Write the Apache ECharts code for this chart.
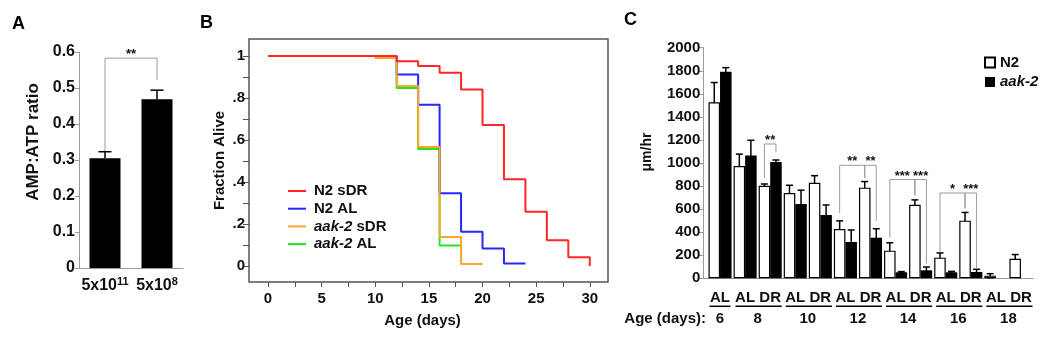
<!DOCTYPE html>
<html><head><meta charset="utf-8">
<script src="https://cdn.jsdelivr.net/npm/echarts@6/dist/echarts.min.js"></script>
<style>html,body{margin:0;padding:0;background:#fff}#c{width:1050px;height:339px}</style>
</head><body><div id="c"></div>
<script>
// ---------- Panel A data ----------
const aCategories = ['5x10^11', '5x10^8'];
const aValues = [0.305, 0.469];
const aErrors = [0.018, 0.025];
// bracket: [fromIndex, toIndex, leftEnd, rightEnd, top]
const aBrackets = [[0, 1, 0.325, 0.522, 0.583]];
const aBracketLabels = ['**'];

// ---------- Panel B data (Kaplan-Meier steps: [day, fraction]) ----------
const bXTicks = [0, 2.5, 5, 7.5, 10, 12.5, 15, 17.5, 20, 22.5, 25, 27.5, 30];
const bXLabels = [0, 5, 10, 15, 20, 25, 30];
const bYTicks = [0, 0.1, 0.2, 0.3, 0.4, 0.5, 0.6, 0.7, 0.8, 0.9, 1];
const bYLabels = [0, 0.2, 0.4, 0.6, 0.8, 1];
const n2sDR = [[0,1],[12,0.975],[14,0.953],[16,0.92],[18,0.84],[20,0.672],[22,0.413],[24,0.258],[26,0.123],[28,0.042],[30,0]];
const n2AL = [[0,1],[12,0.912],[14,0.768],[16,0.347],[18,0.163],[20,0.083],[22,0.012],[24,0.012]];
const aak2sDR = [[0,1],[10,0.99],[12,0.857],[14,0.567],[16,0.138],[18,0.01],[20,0.01]];
const aak2AL = [[0,1],[12,0.848],[14,0.557],[16,0.098],[18,0.01]];

// ---------- Panel C data ----------
const cCategories = ['6 AL','8 AL','8 DR','10 AL','10 DR','12 AL','12 DR','14 AL','14 DR','16 AL','16 DR','18 AL','18 DR'];
const n2Values = [1526, 974, 803, 740, 829, 428, 786, 240, 638, 179, 500, 23, 170];
const n2Errors = [172, 103, 15, 67, 61, 70, 53, 68, 42, 41, 71, 17, 36];
const aak2Values = [1792, 1064, 1009, 644, 549, 315, 352, 52, 69, 52, 55, null, null];
const aak2Errors = [35, 133, 17, 120, 87, 104, 78, 6, 29, 8, 23, null, null];
const ageLabels = ['6', '8', '10', '12', '14', '16', '18'];
const ageGroupStart = [0, 1, 3, 5, 7, 9, 11];
const ageGroupEnd = [0, 2, 4, 6, 8, 10, 12];
// brackets: [fromIndex, fromSeries(0=N2,1=aak-2), toIndex, toSeries, leftEnd, rightEnd, top]
const cBrackets = [
  [2,0, 2,1, 867, 1093, 1165],
  [5,0, 6,0, 564, 870, 980],
  [6,0, 6,1, 870, 500, 980],
  [7,0, 8,0, 355, 720, 857],
  [8,0, 8,1, 720, 130, 857],
  [9,0, 10,0, 231, 607, 740],
  [10,0, 10,1, 607, 87, 740]
];
const cBracketLabels = ['**', '**', '**', '***', '***', '*', '***'];

// ---------- styling ----------
const FONT = "'Liberation Sans', Arial, Helvetica, sans-serif";
const TXT = '#111';
const BAR_HALF = 0.23; // offset of each bar centre inside its category (barWidth 46%, gap 0)

const chart = echarts.init(document.getElementById('c'), null, {renderer: 'canvas'});

function errRender(capHalf, upOnly, lw) {
  return function (params, api) {
    const x = api.value(0), v = api.value(1), e = api.value(2);
    const pTop = api.coord([x, v + e]);
    const pBot = api.coord([x, upOnly ? v : v - e]);
    const st = {stroke: '#000', lineWidth: lw};
    const ch = [
      {type: 'line', shape: {x1: pTop[0], y1: pTop[1], x2: pBot[0], y2: pBot[1]}, style: st},
      {type: 'line', shape: {x1: pTop[0] - capHalf, y1: pTop[1], x2: pTop[0] + capHalf, y2: pTop[1]}, style: st}
    ];
    if (!upOnly) ch.push({type: 'line', shape: {x1: pBot[0] - capHalf, y1: pBot[1], x2: pBot[0] + capHalf, y2: pBot[1]}, style: st});
    return {type: 'group', children: ch};
  };
}
function bracketRender(labels, fontSize, dy) {
  return function (params, api) {
    const x1 = api.value(0), x2 = api.value(1), yl = api.value(2), yr = api.value(3), yt = api.value(4);
    const a = api.coord([x1, yl]), b = api.coord([x1, yt]), c = api.coord([x2, yt]), d = api.coord([x2, yr]);
    return {type: 'group', children: [
      {type: 'polyline', shape: {points: [a, b, c, d]}, style: {stroke: '#9a9a9a', lineWidth: 1, fill: null}},
      {type: 'text', x: (b[0] + c[0]) / 2, y: b[1] - dy,
       style: {text: labels[params.dataIndex], fill: TXT, fontSize: fontSize, fontWeight: 'bold', fontFamily: FONT, align: 'center', verticalAlign: 'middle'}}
    ]};
  };
}

const groupCenters = ageGroupStart.map((s, i) => (s + ageGroupEnd[i]) / 2);
const underlineData = ageGroupStart.map((s, i) => {
  const n = ageGroupEnd[i] - s + 1;
  return [groupCenters[i] + (n > 1 ? 0.04 : 0), 0.5 * n - 0.08];
});
const barX = (idx, s) => idx + (s === 0 ? -BAR_HALF : BAR_HALF);

const option = {
  animation: false,
  textStyle: {fontFamily: FONT, fontWeight: 'bold', color: TXT},
  grid: [
    {left: 79, top: 52, width: 104, height: 216, outerBoundsMode: 'none'},
    {left: 249, top: 39, width: 359, height: 243, show: true, borderColor: '#555', borderWidth: 1.5, outerBoundsMode: 'none'},
    {left: 703.3, top: 47.7, width: 330.2, height: 230.6, outerBoundsMode: 'none'},
    {left: 707.5, top: 47.7, width: 326, height: 230.6, outerBoundsMode: 'none'}
  ],
  legend: [
    {
      data: ['N2 sDR', 'N2 AL', 'aak-2 sDR', 'aak-2 AL'],
      orient: 'vertical', left: 283, top: 178, itemWidth: 18, itemHeight: 2, itemGap: 1.7, icon: 'rect',
      selectedMode: false,
      textStyle: {fontSize: 15, fontWeight: 'bold', fontFamily: FONT, color: TXT, lineHeight: 16, padding: [0, 0, 0, 3],
        rich: {i: {fontSize: 15, fontWeight: 'bold', fontStyle: 'italic', fontFamily: FONT, color: TXT}}},
      formatter: n => n.indexOf('aak-2') === 0 ? '{i|aak-2}' + n.slice(5) : n
    },
    {
      data: ['N2', 'aak-2'],
      orient: 'vertical', left: 979, top: 50, itemWidth: 10, itemHeight: 10, itemGap: 4.5, icon: 'rect',
      selectedMode: false,
      textStyle: {fontSize: 15, fontWeight: 'bold', fontFamily: FONT, color: TXT, lineHeight: 12,
        rich: {i: {fontSize: 15, fontWeight: 'bold', fontStyle: 'italic', fontFamily: FONT, color: TXT}}},
      formatter: n => n === 'aak-2' ? '{i|aak-2}' : n
    }
  ],
  xAxis: [
    {gridIndex: 0, type: 'category', data: aCategories,
     axisLine: {show: true, lineStyle: {color: '#9a9a9a', width: 1}}, axisTick: {show: false},
     axisLabel: {margin: 8, interval: 0,
       formatter: c => { const p = c.split('^'); return '{b|' + p[0] + '}{sup|' + p[1] + '}'; },
       rich: {b: {fontSize: 16, fontWeight: 'bold', fontFamily: FONT, color: TXT, lineHeight: 20},
              sup: {fontSize: 11, fontWeight: 'bold', fontFamily: FONT, color: TXT, verticalAlign: 'top'}}}},
    {gridIndex: 1, type: 'value', min: -1.77, max: 31.7,
     axisLine: {show: false, onZero: false}, splitLine: {show: false},
     axisTick: {show: true, customValues: bXTicks, length: 5, lineStyle: {color: '#555', width: 1}},
     axisLabel: {customValues: bXLabels, margin: 9, fontSize: 15, fontWeight: 'bold', fontFamily: FONT, color: TXT},
     name: 'Age (days)', nameLocation: 'middle', nameGap: 31,
     nameTextStyle: {fontSize: 15, fontWeight: 'bold', fontFamily: FONT, color: TXT, padding: [0, 12, 0, 0]}},
    {gridIndex: 2, type: 'value', min: -0.667, max: 12.5,
     axisLine: {show: true, onZero: false, lineStyle: {color: '#9a9a9a', width: 1}}, axisTick: {show: false}, splitLine: {show: false},
     axisLabel: {customValues: groupCenters, margin: 33, fontSize: 15, fontWeight: 'bold', fontFamily: FONT, color: TXT,
       formatter: v => { const i = groupCenters.indexOf(v); return i >= 0 ? ageLabels[i] : ''; }}},
    {gridIndex: 3, type: 'category', data: cCategories,
     axisLine: {show: false}, axisTick: {show: false},
     axisLabel: {interval: 0, margin: 12, fontSize: 15, fontWeight: 'bold', fontFamily: FONT, color: TXT,
       formatter: c => c.split(' ')[1]}}
  ],
  yAxis: [
    {gridIndex: 0, type: 'value', min: 0, max: 0.6, interval: 0.1,
     axisLine: {show: true, onZero: false, lineStyle: {color: '#9a9a9a', width: 1}},
     axisTick: {show: true, length: 4, lineStyle: {color: '#9a9a9a'}}, splitLine: {show: false},
     axisLabel: {fontSize: 16, margin: 4, fontWeight: 'bold', fontFamily: FONT, color: TXT,
       formatter: v => v === 0 ? '0' : v.toFixed(1)}},
    {gridIndex: 1, type: 'value', min: -0.076, max: 1.081,
     axisLine: {show: false, onZero: false}, splitLine: {show: false},
     axisTick: {show: true, customValues: bYTicks, length: 6, lineStyle: {color: '#555', width: 1}},
     axisLabel: {customValues: bYLabels, margin: 4, fontSize: 15, fontWeight: 'bold', fontFamily: FONT, color: TXT,
       formatter: v => (v === 0 || v === 1) ? String(v) : String(+v.toFixed(1)).replace('0.', '.')},
     name: 'Fraction Alive', nameLocation: 'middle', nameGap: 22,
     nameTextStyle: {fontSize: 15, fontWeight: 'bold', fontFamily: FONT, color: TXT}},
    {gridIndex: 2, type: 'value', min: 0, max: 2000, interval: 200,
     axisLine: {show: true, onZero: false, lineStyle: {color: '#9a9a9a', width: 1}},
     axisTick: {show: true, length: 5, lineStyle: {color: '#9a9a9a'}}, splitLine: {show: false},
     axisLabel: {fontSize: 15, margin: 3, fontWeight: 'bold', fontFamily: FONT, color: TXT, formatter: v => String(v)}},
    {gridIndex: 3, type: 'value', min: 0, max: 2000, show: false, splitLine: {show: false}, axisLine: {onZero: false}}
  ],
  series: [
    // Panel A
    {name: 'AMP:ATP', type: 'bar', xAxisIndex: 0, yAxisIndex: 0, data: aValues, barWidth: 31, itemStyle: {color: '#000'}},
    {type: 'custom', xAxisIndex: 0, yAxisIndex: 0, silent: true, clip: false,
     data: aValues.map((v, i) => [i, v, aErrors[i]]), encode: {x: 0, y: 1}, renderItem: errRender(6.5, true, 1.5)},
    {type: 'custom', xAxisIndex: 0, yAxisIndex: 0, silent: true, clip: false,
     data: aBrackets, encode: {x: [0, 1], y: [2, 3, 4]}, renderItem: bracketRender(aBracketLabels, 13, 3.5)},
    // Panel B
    {name: 'aak-2 AL', type: 'line', step: 'end', xAxisIndex: 1, yAxisIndex: 1, data: aak2AL, symbol: 'none',
     lineStyle: {width: 2, color: '#22e622'}, itemStyle: {color: '#22e622'}},
    {name: 'N2 AL', type: 'line', step: 'end', xAxisIndex: 1, yAxisIndex: 1, data: n2AL, symbol: 'none',
     lineStyle: {width: 2, color: '#2626ff'}, itemStyle: {color: '#2626ff'}},
    {name: 'aak-2 sDR', type: 'line', step: 'end', xAxisIndex: 1, yAxisIndex: 1, data: aak2sDR, symbol: 'none',
     lineStyle: {width: 2, color: '#ffa52e'}, itemStyle: {color: '#ffa52e'}},
    {name: 'N2 sDR', type: 'line', step: 'end', xAxisIndex: 1, yAxisIndex: 1, data: n2sDR, symbol: 'none',
     lineStyle: {width: 2, color: '#ff2626'}, itemStyle: {color: '#ff2626'}},
    // Panel C
    {name: 'N2', type: 'bar', xAxisIndex: 3, yAxisIndex: 3, data: n2Values, barWidth: '46%', barGap: '0%',
     itemStyle: {color: '#fff', borderColor: '#000', borderWidth: 1.2}},
    {name: 'aak-2', type: 'bar', xAxisIndex: 3, yAxisIndex: 3, data: aak2Values, barWidth: '46%', barGap: '0%',
     itemStyle: {color: '#000'}},
    {type: 'custom', xAxisIndex: 2, yAxisIndex: 2, silent: true, clip: false,
     data: n2Values.map((v, i) => [barX(i, 0), v, n2Errors[i]]), encode: {x: 0, y: 1}, renderItem: errRender(3.5, false, 1.5)},
    {type: 'custom', xAxisIndex: 2, yAxisIndex: 2, silent: true, clip: false,
     data: aak2Values.map((v, i) => [barX(i, 1), v, aak2Errors[i]]).filter(d => d[1] != null), encode: {x: 0, y: 1}, renderItem: errRender(3.5, false, 1.5)},
    {type: 'custom', xAxisIndex: 2, yAxisIndex: 2, silent: true, clip: false,
     data: cBrackets.map(b => [barX(b[0], b[1]), barX(b[2], b[3]), b[4], b[5], b[6]]),
     encode: {x: [0, 1], y: [2, 3, 4]}, renderItem: bracketRender(cBracketLabels, 13, 3.5)},
    {type: 'custom', xAxisIndex: 2, yAxisIndex: 2, silent: true, clip: false,
     data: underlineData, encode: {x: 0},
     renderItem: function (params, api) {
       const c = api.value(0), h = api.value(1);
       const p1 = api.coord([c - h, 0]), p2 = api.coord([c + h, 0]);
       const y = p1[1] + 28;
       return {type: 'line', shape: {x1: p1[0], y1: y, x2: p2[0], y2: y}, style: {stroke: '#000', lineWidth: 1.5}};
     }}
  ],
  graphic: [
    {type: 'text', x: 18.5, y: 24, style: {text: 'A', fontSize: 18, fontWeight: 'bold', fontFamily: FONT, fill: '#000', align: 'center', verticalAlign: 'middle'}},
    {type: 'text', x: 206.5, y: 23, style: {text: 'B', fontSize: 18, fontWeight: 'bold', fontFamily: FONT, fill: '#000', align: 'center', verticalAlign: 'middle'}},
    {type: 'text', x: 630.5, y: 20, style: {text: 'C', fontSize: 18, fontWeight: 'bold', fontFamily: FONT, fill: '#000', align: 'center', verticalAlign: 'middle'}},
    {type: 'text', x: 33, y: 142, rotation: Math.PI / 2, style: {text: 'AMP:ATP ratio', fontSize: 17, fontWeight: 'bold', fontFamily: FONT, fill: TXT, align: 'center', verticalAlign: 'middle'}},
    {type: 'text', x: 647, y: 152, rotation: Math.PI / 2, style: {text: 'μm/hr', fontSize: 14, fontWeight: 'bold', fontFamily: FONT, fill: TXT, align: 'center', verticalAlign: 'middle'}},
    {type: 'text', x: 706, y: 319, style: {text: 'Age (days):', fontSize: 15, fontWeight: 'bold', fontFamily: FONT, fill: TXT, align: 'right', verticalAlign: 'middle'}}
  ]
};
chart.setOption(option);
</script>
</body></html>
